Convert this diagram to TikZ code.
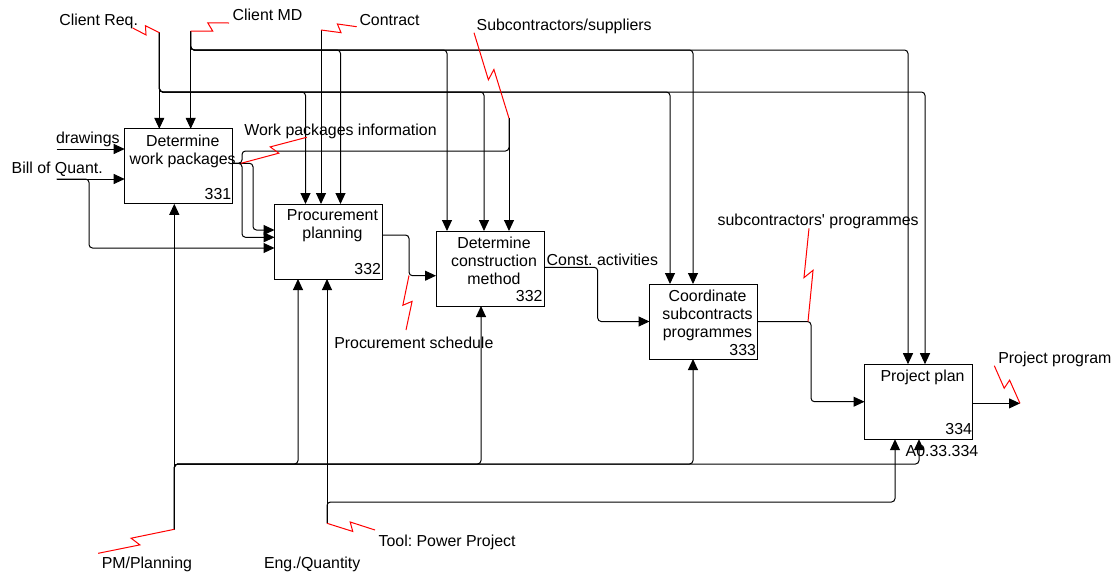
\documentclass[tikz,border=0pt]{standalone}
\usepackage{fontspec}
\setmainfont{Liberation Sans}
\usetikzlibrary{arrows.meta,calc}
\newcommand{\squig}[2]{\draw[sq] (#1) -- ($(#1)!0.53!(#2)!4.5pt!-90:(#2)$) -- ($(#1)!0.45!(#2)!4.5pt!90:(#2)$) -- (#2);}
\begin{document}
\frenchspacing
\begin{tikzpicture}[x=1pt,y=-1pt,
  every node/.style={font=\fontsize{15.9}{18}\selectfont, inner sep=0pt, outer sep=0pt},
  box/.style={draw, line width=1pt, minimum width=108pt, minimum height=75pt},
  ln/.style={draw, line width=1pt, rounded corners=3.5pt},
  arr/.style={ln, -{Triangle[length=11pt,width=10pt]}},
  sq/.style={draw=red, line width=1pt},
  lbl/.style={anchor=base west},
  ttl/.style={anchor=north, align=center},
  num/.style={anchor=south east}]
\useasboundingbox (0,0) rectangle (1117,574);

% boxes
\node[box] (b331) at (178.7,166.3) {};
\node[box] (b332) at (328.5,241.5) {};
\node[box] (bC) at (490,268.5) {};
\node[box] (b333) at (703.5,321.5) {};
\node[box] (b334) at (918.5,401.7) {};

\node[ttl] (t331) at ([xshift=4pt,yshift=-6pt]b331.north) {Determine\\work packages};
\node[ttl] (t332) at ([xshift=4pt,yshift=-6pt]b332.north) {Procurement\\planning};
\node[ttl] (tC) at ([xshift=4pt,yshift=-6pt]bC.north) {Determine\\construction\\method};
\node[ttl] (t333) at ([xshift=4pt,yshift=-6pt]b333.north) {Coordinate\\subcontracts\\programmes};
\node[ttl] (t334) at ([xshift=4pt,yshift=-6pt]b334.north) {Project plan};

\node[num] (n331) at ([xshift=-1.5pt,yshift=4pt]b331.south east) {331};
\node[num] (n332) at ([xshift=-1.5pt,yshift=4pt]b332.south east) {332};
\node[num] (nC) at ([xshift=-1.5pt,yshift=4pt]bC.south east) {332};
\node[num] (n333) at ([xshift=-1.5pt,yshift=3pt]b333.south east) {333};
\node[num] (n334) at ([xshift=-0.5pt,yshift=5pt]b334.south east) {334};

% labels
\node[lbl] (lcr) at (59.3,25) {Client Req.};
\node[lbl] (lcm) at (232.7,20.7) {Client MD};
\node[lbl] (lco) at (359.5,25.5) {Contract};
\node[lbl] (lsu) at (476.7,30) {Subcontractors/suppliers};
\node[lbl] (lwp) at (244.3,135) {Work packages information};
\node[lbl] (ldr) at (56,143.5) {drawings};
\node[lbl] (lbq) at (11.7,173.3) {Bill of Quant.};
\node[lbl] (lps) at (334.3,348.5) {Procurement schedule};
\node[lbl] (lca) at (546.7,265) {Const. activities};
\node[lbl] (lsp) at (717.7,225) {subcontractors\textquotesingle{} programmes};
\node[lbl] (lpp) at (998.3,363) {Project program};
\node[lbl] (lpm) at (101.8,568) {PM/Planning};
\node[lbl] (len) at (264,568) {Eng./Quantity};
\node[lbl] (ltl) at (378.6,546) {Tool: Power Project};
\node[lbl] (lao) at (905.7,456) {A0.33.334};

% coordinates
\coordinate (crq) at (159.3,32.7);
\coordinate (cmd) at (190.7,31);
\coordinate (con) at (321,30);
\coordinate (sub) at (509,118.3);
\coordinate (pm) at (174.3,529.3);
\coordinate (eng) at (327,523.3);
\coordinate (dw) at (56.7,149);
\coordinate (bq) at (56.7,179);
\coordinate (pp) at (1020,403.4);
\coordinate (busR) at (0,92);
\coordinate (busM) at (0,50);
\coordinate (busP) at (0,464);
\coordinate (busE) at (0,502);
\coordinate (wp) at ([yshift=3pt]b331.east);

\coordinate (sqcr) at (132.7,28);
\coordinate (sqcm) at (229,23);
\coordinate (sqco) at (356.7,26.7);
\coordinate (sqsu) at (474,32.7);
\coordinate (sqwp) at (306.7,137.3);
\coordinate (wpj) at (241,163.3);
\coordinate (sqps) at (406,330);
\coordinate (psj) at (409,275.5);
\coordinate (sqsp) at (809,228.3);
\coordinate (spj) at (808,321.5);
\coordinate (sqpp) at (994.3,365.7);
\coordinate (sqpm) at (98.2,553.3);
\coordinate (sqtl) at (375,530);

% controls from top
\draw[arr] (crq) -- (crq |- b331.north);
\draw[arr] (crq) -- (crq |- busR) -| ([xshift=31pt]b332.north west);
\draw[arr] (crq) -- (crq |- busR) -| ([xshift=48pt]bC.north west);
\draw[arr] (crq) -- (crq |- busR) -| ([xshift=20.5pt]b333.north west);
\draw[arr] (crq) -- (crq |- busR) -| ([xshift=60.5pt]b334.north west);

\draw[arr] (cmd) -- (cmd |- b331.north);
\draw[arr] (cmd) -- (cmd |- busM) -| ([xshift=66pt]b332.north west);
\draw[arr] (cmd) -- (cmd |- busM) -| ([xshift=11pt]bC.north west);
\draw[arr] (cmd) -- (cmd |- busM) -| ([xshift=43.5pt]b333.north west);
\draw[arr] (cmd) -- (cmd |- busM) -| ([xshift=43.5pt]b334.north west);

\draw[arr] (con) -- (con |- b332.north);
\draw[arr] (sub) -- (sub |- bC.north);

% work packages output
\draw[arr] (wp) -| (253,230) -- ([yshift=11.5pt]b332.west);
\draw[arr] (wp) -| (242,237.3) -- ([yshift=4.2pt]b332.west);
\draw[ln] (wp) -| (242,151) -| (sub);

% inputs
\draw[arr] (dw) -- (dw -| b331.west);
\draw[arr] (bq) -- (bq -| b331.west);
\draw[arr] (bq) -| (89,248) -- ([yshift=-6.5pt]b332.west);

% outputs
\draw[arr] ([yshift=6.5pt]b332.east) -| (409,275.7) -- ([yshift=-7.2pt]bC.west);
\draw[arr] ([yshift=1.2pt]bC.east) -| (597.7,321.5) -- (b333.west);
\draw[arr] (b333.east) -| (811,401.7) -- (b334.west);
\draw[arr] ([yshift=-1.7pt]b334.east) -- (pp);

% mechanisms
\draw[arr] (pm) -- (pm |- b331.south);
\draw[arr] (pm) -- (pm |- busP) -| ([xshift=23.5pt]b332.south west);
\draw[arr] (pm) -- (pm |- busP) -| ([xshift=45pt]bC.south west);
\draw[arr] (pm) -- (pm |- busP) -| ([xshift=43.5pt]b333.south west);
\draw[arr] (pm) -- (pm |- busP) -| ([xshift=54.5pt]b334.south west);
\draw[arr] (eng) -- (eng |- b332.south);
\draw[arr] (eng) -- (eng |- busE) -| ([xshift=30.5pt]b334.south west);

% squiggles
\squig{sqcr}{crq}
\squig{sqcm}{cmd}
\squig{sqco}{con}
\squig{sqsu}{sub}
\squig{sqwp}{wpj}
\squig{sqps}{psj}
\squig{sqsp}{spj}
\squig{sqpp}{pp}
\squig{sqpm}{pm}
\squig{sqtl}{eng}
\end{tikzpicture}
\end{document}
